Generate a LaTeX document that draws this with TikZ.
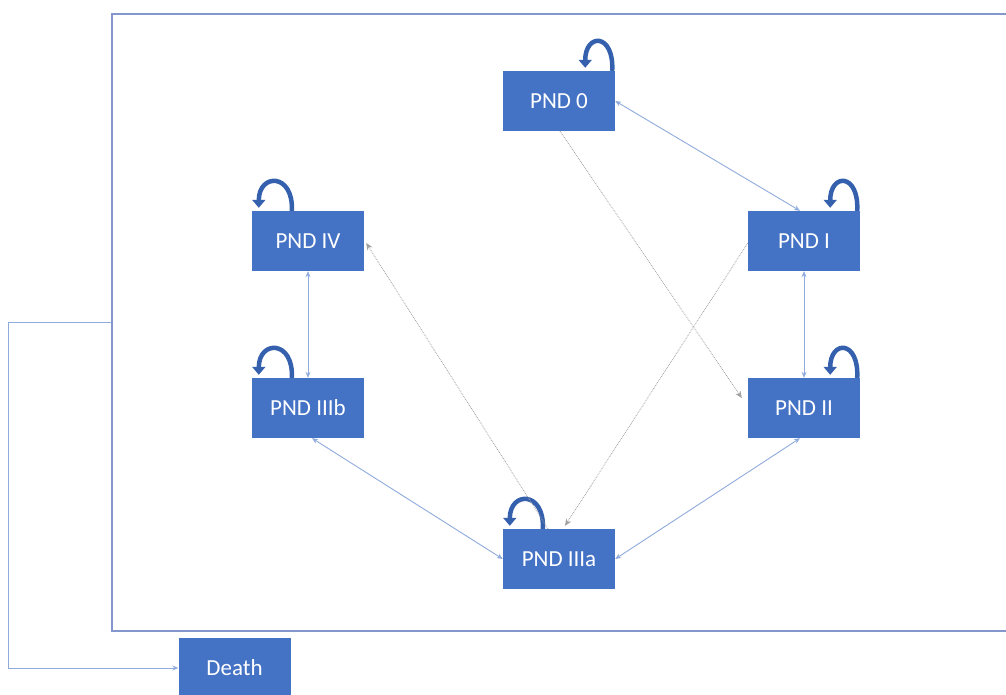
\documentclass[tikz,border=0pt]{standalone}
\usepackage{fontspec}
\setmainfont{Carlito}
\usetikzlibrary{arrows.meta,calc}
\definecolor{boxblue}{HTML}{4472C4}
\definecolor{loopblue}{HTML}{3560AE}
\definecolor{edgeblue}{HTML}{8FAADC}
\definecolor{framecol}{HTML}{8497CC}
\definecolor{dotgray}{HTML}{A0A0A0}
\tikzset{
  state/.style={fill=boxblue, draw=none, minimum width=112pt, minimum height=60pt, text=white, font=\fontsize{23}{26}\selectfont, inner sep=0pt},
  selfloop/.style={draw=loopblue, line width=4.5pt, -{Triangle[width=13pt,length=8pt]}},
  biedge/.style={draw=edgeblue, line width=0.9pt, {Stealth[length=6pt,width=5pt]}-{Stealth[length=6pt,width=5pt]}},
  oneedge/.style={draw=edgeblue, line width=0.9pt, -{Stealth[length=6pt,width=5pt]}},
  dotedge/.style={draw=dotgray, line width=0.8pt, densely dotted, -{Stealth[length=7pt,width=6pt]}},
  framebox/.style={draw=framecol, line width=1.1pt, minimum width=900pt, minimum height=617pt, inner sep=0pt}
}
\begin{document}
\begin{tikzpicture}[x=1pt,y=-1pt]
\useasboundingbox (0,0) rectangle (1006,695);
\node[framebox] (frame) at (562,322.5) {};
\node[state] (p0) at (559,101) {PND 0};
\node[state] (p1) at (804,241) {PND I};
\node[state] (p2) at (804,408) {PND II};
\node[state] (p3a) at (559,559) {PND IIIa};
\node[state] (p3b) at (308,408) {PND IIIb};
\node[state] (p4) at (308,241) {PND IV};
\node[state] (death) at (234.5,668) {Death};

% self loops (right side)
\foreach \n in {p0,p1,p2}{
  \draw[selfloop] ($(\n.north east)+(-3,0)$) .. controls ($(\n.north east)+(-1,-38)$) and ($(\n.north east)+(-30,-38)$) .. ($(\n.north east)+(-30,-3)$);
}
% self loops (left side)
\foreach \n in {p4,p3b,p3a}{
  \draw[selfloop] ($(\n.north west)+(40,0)$) .. controls ($(\n.north west)+(42,-38)$) and ($(\n.north west)+(7,-38)$) .. ($(\n.north west)+(7,-3)$);
}

% blue edges
\draw[biedge] (p0.east) -- ($(p1.north)+(-4,0)$);
\draw[biedge] (p1.south) -- (p2.north);
\draw[biedge] ($(p2.south)+(-4,0)$) -- (p3a.east);
\draw[biedge] ($(p3b.south)+(4,0)$) -- (p3a.west);
\draw[biedge] (p4.south) -- (p3b.north);

% gray dotted edges
\draw[dotedge] ($(p0.south)+(1,0)$) -- ($(p2.west)+(-6,-10)$);
\draw[dotedge] ($(p1.west)+(0,2)$) -- ($(p3a.north)+(6,-3)$);
\draw[dotedge] ($(p3a.north)+(-11,0)$) -- ($(p4.east)+(2,2)$);

% death connector
\draw[oneedge] (frame.west) -- (8,322.5) -- (8,668) -- (death.west);
\end{tikzpicture}
\end{document}
